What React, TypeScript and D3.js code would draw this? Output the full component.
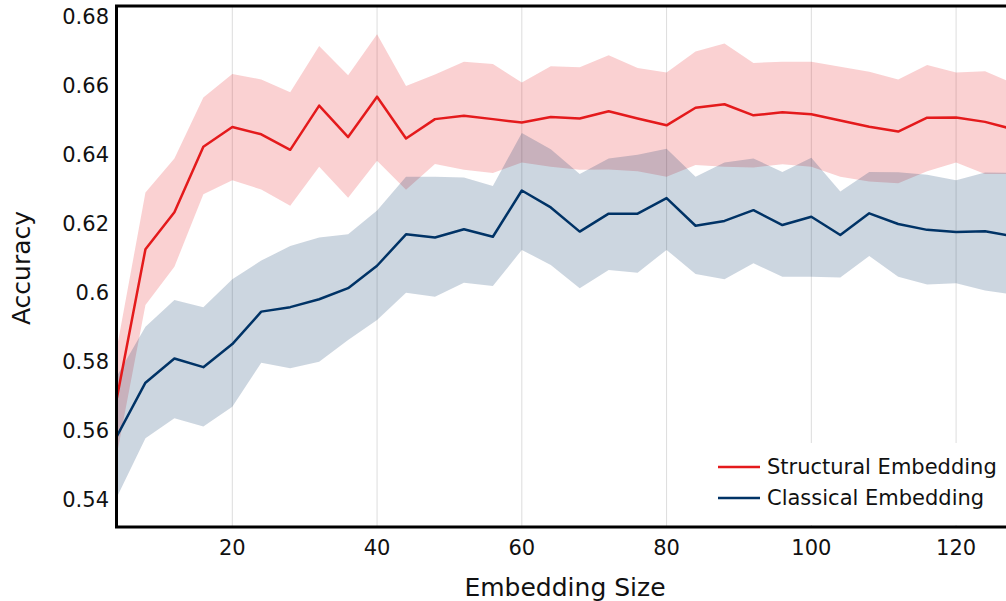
import React from 'react';
import * as d3 from 'd3';

// embedding sizes on the x axis
const sizes = [4, 8, 12, 16, 20, 24, 28, 32, 36, 40, 44, 48, 52, 56, 60, 64,
  68, 72, 76, 80, 84, 88, 92, 96, 100, 104, 108, 112, 116, 120, 124, 128];

const structMean = [0.569, 0.6127, 0.6234, 0.6424, 0.6481, 0.646, 0.6415, 0.6543, 0.6452, 0.6569, 0.6448, 0.6504,
  0.6514, 0.6504, 0.6494, 0.651, 0.6506, 0.6527, 0.6506, 0.6486, 0.6537, 0.6547, 0.6515, 0.6524,
  0.6518, 0.65, 0.6482, 0.6468, 0.6508, 0.6509, 0.6496, 0.6474];
const structUpper = [0.5835, 0.6291, 0.639, 0.6567, 0.6635, 0.6619, 0.6582, 0.6716, 0.6631, 0.675, 0.66, 0.6633,
  0.667, 0.6664, 0.661, 0.6657, 0.6654, 0.6689, 0.6652, 0.6639, 0.67, 0.6723, 0.6667, 0.667,
  0.667, 0.6656, 0.6641, 0.6619, 0.6661, 0.6639, 0.6643, 0.6607];
const structLower = [0.5526, 0.5965, 0.6076, 0.6286, 0.6327, 0.63, 0.6253, 0.6366, 0.6276, 0.6383, 0.6299, 0.6374,
  0.6357, 0.6348, 0.6378, 0.6366, 0.6357, 0.6358, 0.6353, 0.6337, 0.6371, 0.6366, 0.6364, 0.6373,
  0.6366, 0.6337, 0.6323, 0.6318, 0.6353, 0.6378, 0.6345, 0.6345];

const classMean = [0.5583, 0.574, 0.581, 0.5785, 0.5852, 0.5946, 0.5959, 0.5982, 0.6014, 0.6079, 0.617, 0.6161,
  0.6185, 0.6163, 0.6297, 0.6248, 0.6178, 0.623, 0.623, 0.6275, 0.6195, 0.6209, 0.624, 0.6197,
  0.6221, 0.6168, 0.6231, 0.62, 0.6183, 0.6177, 0.6179, 0.6164];
const classUpper = [0.5757, 0.5902, 0.598, 0.5959, 0.604, 0.6094, 0.6136, 0.6161, 0.617, 0.6239, 0.6337, 0.6337,
  0.6335, 0.631, 0.6464, 0.6417, 0.6345, 0.639, 0.6401, 0.6418, 0.6337, 0.6378, 0.639, 0.6351,
  0.6392, 0.6294, 0.6351, 0.635, 0.6343, 0.6327, 0.6349, 0.6348];
const classLower = [0.5406, 0.5579, 0.5637, 0.5613, 0.567, 0.5798, 0.5782, 0.5801, 0.5864, 0.5922, 0.6001, 0.5989,
  0.603, 0.602, 0.6125, 0.6081, 0.6014, 0.6067, 0.6059, 0.6125, 0.6055, 0.604, 0.6086, 0.6047,
  0.6047, 0.6045, 0.6107, 0.6047, 0.6025, 0.6028, 0.6007, 0.5995];

const xTicks = [20, 40, 60, 80, 100, 120];
const yTicks = [0.54, 0.56, 0.58, 0.6, 0.62, 0.64, 0.66, 0.68];

const series = [
  { name: 'Structural Embedding', color: '#e41a1c', mean: structMean, lo: structLower, hi: structUpper },
  { name: 'Classical Embedding', color: '#003366', mean: classMean, lo: classLower, hi: classUpper },
];

const FONT = '"DejaVu Sans", sans-serif';

export default function App() {
  const left = 116.5, right = 1014, top = 6, bottom = 527;
  const x = d3.scaleLinear().domain([4, 128]).range([left, right]);
  const y = d3.scaleLinear().domain([0.54, 0.68]).range([500, 17]);

  const line = (vals: number[]) =>
    d3.line<number>().x((_, i) => x(sizes[i])).y(d => y(d))(vals) as string;
  const band = (lo: number[], hi: number[]) =>
    d3.area<number>().x((_, i) => x(sizes[i])).y0((_, i) => y(lo[i])).y1(d => y(d))(hi) as string;

  return (
    <div style={{ position: 'fixed', left: 0, top: 0, width: 1006, height: 601, overflow: 'hidden', background: '#fff' }}>
      <svg width={1030} height={601} style={{ display: 'block' }} fontFamily={FONT}>
        <defs>
          <clipPath id="plot">
            <rect x={left} y={top} width={right - left} height={bottom - top} />
          </clipPath>
        </defs>
        {xTicks.map(t => (
          <line key={t} x1={x(t)} x2={x(t)} y1={top} y2={bottom} stroke="#dddddd" strokeWidth={1} />
        ))}
        <g clipPath="url(#plot)">
          {series.map(s => (
            <path key={s.name + 'b'} d={band(s.lo, s.hi)} fill={s.color} fillOpacity={0.2} stroke="none" />
          ))}
          {series.map(s => (
            <path key={s.name} d={line(s.mean)} fill="none" stroke={s.color} strokeWidth={2.5} strokeLinejoin="round" />
          ))}
        </g>
        {/* legend */}
        <rect x={705} y={443} width={330} height={82} fill="#fff" />
        {series.map((s, i) => (
          <g key={s.name} transform={`translate(718,${467 + i * 31})`}>
            <line x1={0} x2={42} y1={0} y2={0} stroke={s.color} strokeWidth={2.5} />
            <text x={49} y={0} dy="0.35em" fontSize={21} fill="#111">{s.name}</text>
          </g>
        ))}
        <rect x={left} y={top} width={right - left} height={bottom - top} fill="none" stroke="#000" strokeWidth={3} />
        {yTicks.map(t => (
          <text key={t} x={109} y={y(t)} dy="0.35em" textAnchor="end" fontSize={21} fill="#111">
            {String(+t.toFixed(2))}
          </text>
        ))}
        {xTicks.map(t => (
          <text key={t} x={x(t)} y={548} dy="0.35em" textAnchor="middle" fontSize={21} fill="#111">{t}</text>
        ))}
        <text x={565} y={587} dy="0.35em" textAnchor="middle" fontSize={25} fill="#111">Embedding Size</text>
        <text transform="translate(21,268) rotate(-90)" dy="0.35em" textAnchor="middle" fontSize={25} fill="#111">Accuracy</text>
      </svg>
    </div>
  );
}
